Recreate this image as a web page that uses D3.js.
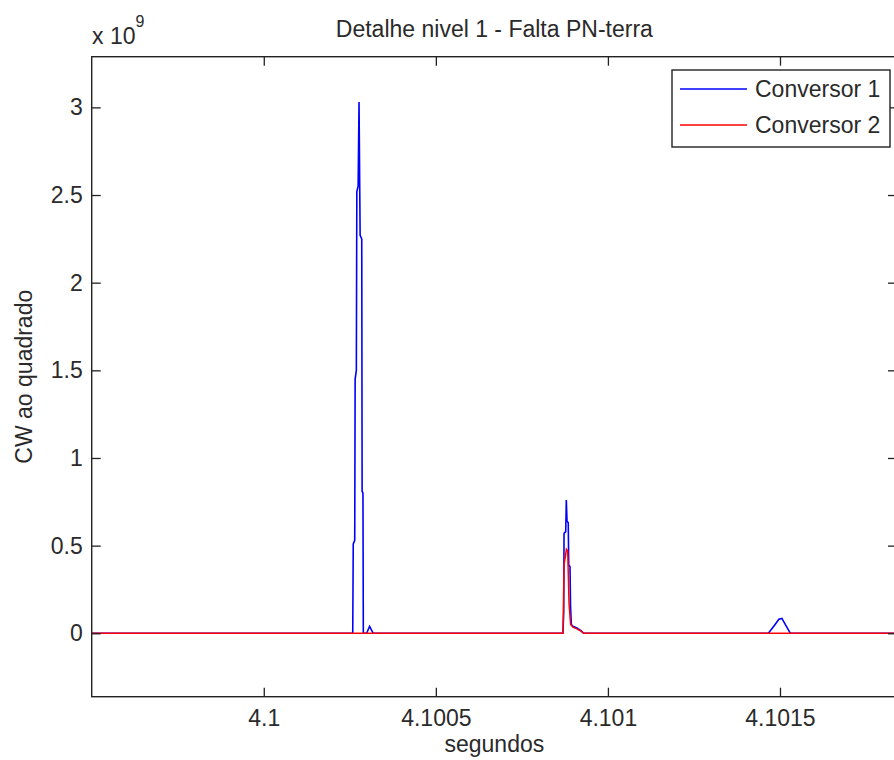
<!DOCTYPE html>
<html><head><meta charset="utf-8">
<script src="https://cdn.jsdelivr.net/npm/d3@7"></script>
<style>
html,body{margin:0;padding:0;background:#fff;overflow:hidden}
svg{display:block}
text{font-family:"Liberation Sans",Arial,Helvetica,sans-serif;fill:#2a2a2a}
</style></head>
<body>
<script>
// ---- data ----
const titleText = "Detalhe nivel 1 - Falta PN-terra";
const xLabelText = "segundos";
const yLabelText = "CW ao quadrado";
const seriesNames = ["Conversor 1", "Conversor 2"];
const seriesColors = ["#0000ff", "#ff0000"];
const xDomain = [4.0995, 4.10184];
const yDomain = [-0.3617e9, 3.289e9];
const xTicks = [4.1, 4.1005, 4.101, 4.1015];
const xTickLabels = ["4.1", "4.1005", "4.101", "4.1015"];
const yTicks = [0, 0.5e9, 1e9, 1.5e9, 2e9, 2.5e9, 3e9];
const yTickLabels = ["0", "0.5", "1", "1.5", "2", "2.5", "3"];

// Conversor 1 (blue)
const t1 = [4.0995, 4.1002585, 4.1002600, 4.1002643, 4.1002655, 4.1002690, 4.1002704, 4.1002742, 4.1002768,
  4.1002800, 4.1002847, 4.1002858, 4.1002882, 4.1002893, 4.1002990, 4.1003075, 4.1003180,
  4.1008693, 4.1008716, 4.1008725, 4.1008774, 4.1008791, 4.1008812, 4.1008847, 4.1008861, 4.1008899,
  4.1008913, 4.1008937, 4.1008983, 4.1009099, 4.1009216, 4.1009297,
  4.1014663, 4.1014837, 4.1014968, 4.1015055, 4.1015186, 4.1015302, 4.10184];
const v1 = [0, 0, 0.51e9, 0.53e9, 1.45e9, 1.5e9, 2.52e9, 2.55e9, 3.03e9,
  2.27e9, 2.25e9, 0.81e9, 0.8e9, 0, 0, 0.04e9, 0,
  0, 0.12e9, 0.57e9, 0.58e9, 0.76e9, 0.64e9, 0.63e9, 0.39e9, 0.38e9,
  0.16e9, 0.05e9, 0.04e9, 0.03e9, 0.015e9, 0,
  0, 0.045e9, 0.08e9, 0.085e9, 0.04e9, 0, 0];

// Conversor 2 (red)
const t2 = [4.0995, 4.1008693, 4.1008707, 4.1008725, 4.1008765, 4.1008794, 4.1008832, 4.1008870,
  4.1008916, 4.1008983, 4.1009099, 4.1009216, 4.1009297, 4.10184];
const v2 = [0, 0, 0.15e9, 0.39e9, 0.44e9, 0.48e9, 0.47e9, 0.17e9,
  0.05e9, 0.035e9, 0.025e9, 0.012e9, 0, 0];

// ---- layout ----
const W = 894, H = 760;
const L = 91.7, R = 897, T = 56.7, B = 696.7;

const svg = d3.select("body").append("svg").attr("width", W).attr("height", H);
const x = d3.scaleLinear().domain(xDomain).range([L, R]);
const y = d3.scaleLinear().domain(yDomain).range([B, T]);

svg.append("clipPath").attr("id", "clip")
  .append("rect").attr("x", L).attr("y", T).attr("width", R - L).attr("height", B - T);

const line = d3.line().x(d => x(d[0])).y(d => y(d[1]));
const s1 = t1.map((t, i) => [t, v1[i]]);
const s2 = t2.map((t, i) => [t, v2[i]]);

const plot = svg.append("g").attr("clip-path", "url(#clip)");
plot.append("path").datum(s1).attr("d", line).attr("fill", "none")
  .attr("stroke", seriesColors[0]).attr("stroke-width", 1.6);
plot.append("path").datum(s2).attr("d", line).attr("fill", "none")
  .attr("stroke", seriesColors[1]).attr("stroke-width", 1.5);

// axes box
const axisColor = "#222";
svg.append("rect").attr("x", L).attr("y", T).attr("width", R - L).attr("height", B - T)
  .attr("fill", "none").attr("stroke", axisColor).attr("stroke-width", 1.4);

const tickLen = 9;
const xb = svg.append("g").attr("transform", `translate(0,${B})`)
  .call(d3.axisBottom(x).tickValues(xTicks).tickSizeInner(-tickLen).tickSizeOuter(0)
    .tickFormat((d, i) => xTickLabels[i]));
const xt = svg.append("g").attr("transform", `translate(0,${T})`)
  .call(d3.axisTop(x).tickValues(xTicks).tickSizeInner(-tickLen).tickSizeOuter(0).tickFormat(""));
const yl = svg.append("g").attr("transform", `translate(${L},0)`)
  .call(d3.axisLeft(y).tickValues(yTicks).tickSizeInner(-tickLen).tickSizeOuter(0)
    .tickFormat((d, i) => yTickLabels[i]).tickPadding(9));
const yr = svg.append("g").attr("transform", `translate(${R},0)`)
  .call(d3.axisRight(y).tickValues(yTicks).tickSizeInner(-tickLen).tickSizeOuter(0).tickFormat(""));

[xb, xt, yl, yr].forEach(g => {
  g.select(".domain").remove();
  g.selectAll(".tick line").attr("stroke", axisColor).attr("stroke-width", 1.3);
  g.selectAll("text").attr("font-size", 23).attr("fill", "#2a2a2a")
    .style("font-family", '"Liberation Sans",Arial,sans-serif');
});
xb.selectAll(".tick text").attr("dy", null).attr("y", 29);

// exponent label
const ex = svg.append("text").attr("x", 92).attr("y", 44).attr("font-size", 23);
ex.append("tspan").text("x 10");
ex.append("tspan").attr("dy", -17).attr("font-size", 16).text("9");

// title
svg.append("text").attr("x", (L + R) / 2).attr("y", 37).attr("text-anchor", "middle")
  .attr("font-size", 23).text(titleText);
// x label
svg.append("text").attr("x", (L + R) / 2).attr("y", 752).attr("text-anchor", "middle")
  .attr("font-size", 23).text(xLabelText);
// y label
svg.append("text").attr("transform", `translate(32,${(T + B) / 2}) rotate(-90)`)
  .attr("text-anchor", "middle").attr("font-size", 23).text(yLabelText);

// legend
const lg = svg.append("g");
const lgX = 672, lgY = 70, lgW = 218, lgH = 77;
lg.append("rect").attr("x", lgX).attr("y", lgY).attr("width", lgW).attr("height", lgH)
  .attr("fill", "#fff").attr("stroke", axisColor).attr("stroke-width", 1.4);
seriesNames.forEach((n, i) => {
  const cy = 89 + i * 36;
  lg.append("line").attr("x1", 680).attr("x2", 747).attr("y1", cy).attr("y2", cy)
    .attr("stroke", seriesColors[i]).attr("stroke-width", 1.5);
  lg.append("text").attr("x", 755).attr("y", cy + 8).attr("font-size", 23).text(n);
});
</script>
</body></html>
